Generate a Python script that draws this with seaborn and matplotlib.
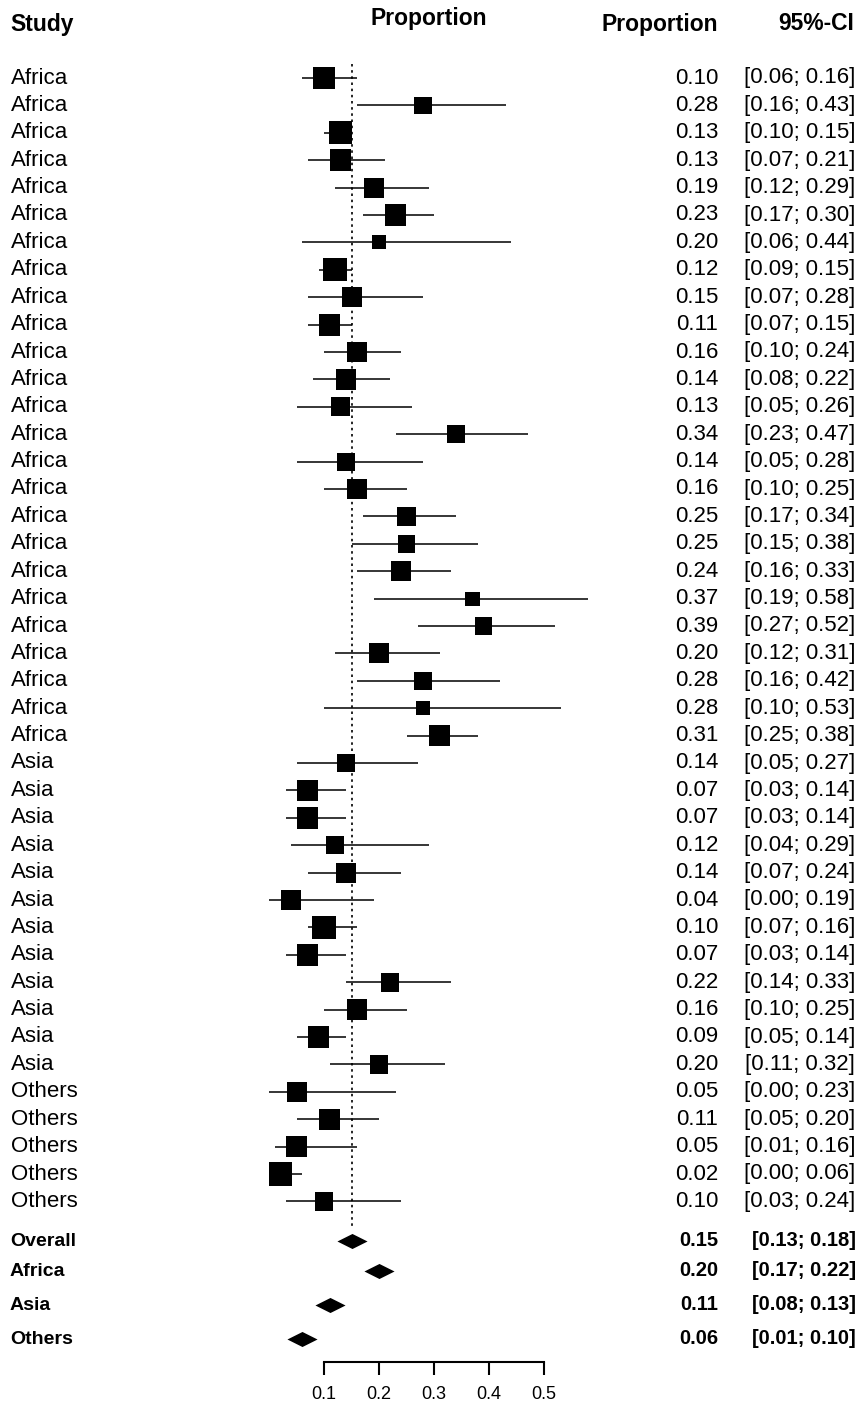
import numpy as np
import pandas as pd
import matplotlib
matplotlib.use('Agg')
import matplotlib.pyplot as plt
import matplotlib.transforms as mtransforms
from matplotlib.path import Path
import seaborn as sns

# ---------------- data ----------------
study = ['Africa'] * 25 + ['Asia'] * 12 + ['Others'] * 5
prop = [0.10, 0.28, 0.13, 0.13, 0.19, 0.23, 0.20, 0.12, 0.15, 0.11,
        0.16, 0.14, 0.13, 0.34, 0.14, 0.16, 0.25, 0.25, 0.24, 0.37,
        0.39, 0.20, 0.28, 0.28, 0.31,
        0.14, 0.07, 0.07, 0.12, 0.14, 0.04, 0.10, 0.07, 0.22, 0.16, 0.09, 0.20,
        0.05, 0.11, 0.05, 0.02, 0.10]
lower = [0.06, 0.16, 0.10, 0.07, 0.12, 0.17, 0.06, 0.09, 0.07, 0.07,
         0.10, 0.08, 0.05, 0.23, 0.05, 0.10, 0.17, 0.15, 0.16, 0.19,
         0.27, 0.12, 0.16, 0.10, 0.25,
         0.05, 0.03, 0.03, 0.04, 0.07, 0.00, 0.07, 0.03, 0.14, 0.10, 0.05, 0.11,
         0.00, 0.05, 0.01, 0.00, 0.03]
upper = [0.16, 0.43, 0.15, 0.21, 0.29, 0.30, 0.44, 0.15, 0.28, 0.15,
         0.24, 0.22, 0.26, 0.47, 0.28, 0.25, 0.34, 0.38, 0.33, 0.58,
         0.52, 0.31, 0.42, 0.53, 0.38,
         0.27, 0.14, 0.14, 0.29, 0.24, 0.19, 0.16, 0.14, 0.33, 0.25, 0.14, 0.32,
         0.23, 0.20, 0.16, 0.06, 0.24]
# relative study weight, estimated from the square sizes
weight = [4.8, 2.9, 5.3, 4.8, 4.0, 4.8, 2.0, 5.3, 4.0, 4.8,
          4.4, 4.4, 3.6, 3.2, 3.2, 4.0, 3.6, 3.2, 4.0, 2.0,
          2.9, 4.0, 3.2, 2.0, 4.4,
          3.6, 4.4, 4.8, 3.2, 4.0, 4.4, 5.3, 4.8, 3.6, 4.4, 4.8, 3.6,
          4.0, 4.4, 4.4, 5.3, 3.6]

sum_labels = ['Overall', 'Africa', 'Asia', 'Others']
sum_prop = [0.15, 0.20, 0.11, 0.06]
sum_lower = [0.13, 0.17, 0.08, 0.01]
sum_upper = [0.18, 0.22, 0.13, 0.10]

# ---------------- layout ----------------
W, H = 857, 1404
row_y = 78 + np.arange(len(prop)) * 27.4
sum_y = np.array([1241, 1271, 1305, 1339])

df = pd.DataFrame({'study': study, 'prop': prop, 'lower': lower,
                   'upper': upper, 'weight': weight, 'y': row_y})
df_sum = pd.DataFrame({'label': sum_labels, 'prop': sum_prop, 'y': sum_y})

sns.set_theme(style='white')
plt.rcParams['font.family'] = ['Liberation Sans', 'DejaVu Sans']
plt.rcParams['text.color'] = 'black'
plt.rcParams['xtick.color'] = 'black'

fig = plt.figure(figsize=(W / 100, H / 100), dpi=100)
# x scale: 0 -> 269 px, 1 -> 819 px
ax = fig.add_axes([269 / W, 0, 550 / W, 1])
ax.set_xlim(0, 1)
ax.set_ylim(H, 0)
ax.patch.set_alpha(0)

# confidence intervals
ax.hlines(df['y'], df['lower'], df['upper'], color='black', lw=1.1, zorder=2)

# study squares, area proportional to weight
k = 51.84
wmin, wmax = min(weight), max(weight)
sns.scatterplot(data=df, x='prop', y='y', size='weight',
                sizes=(k * wmin, k * wmax), size_norm=(wmin, wmax),
                marker='s', color='black', linewidth=0, legend=False,
                ax=ax, zorder=3)

# reference line at overall estimate
ax.vlines(sum_prop[0], 64, 1228, color='black', lw=1.2,
          linestyles=(0, (1.5, 2.2)), zorder=1)

# pooled estimates as diamonds
diamond = Path([(-1, 0), (0, 0.5), (1, 0), (0, -0.5), (-1, 0)],
               [Path.MOVETO, Path.LINETO, Path.LINETO, Path.LINETO, Path.CLOSEPOLY])
sns.scatterplot(data=df_sum, x='prop', y='y', marker=diamond, s=470,
                color='black', linewidth=0, legend=False, ax=ax, zorder=3)

# bottom axis
for s in ['top', 'left', 'right']:
    ax.spines[s].set_visible(False)
ax.spines['bottom'].set_position(('data', 1362))
ax.spines['bottom'].set_bounds(0.1, 0.5)
ax.spines['bottom'].set_color('black')
ax.spines['bottom'].set_linewidth(1.5)
ax.set_xticks([0.1, 0.2, 0.3, 0.4, 0.5])
ax.set_xticklabels(['0.1', '0.2', '0.3', '0.4', '0.5'], fontsize=13)
ax.tick_params(axis='x', direction='out', length=9, width=1.5, pad=8, bottom=True)
ax.set_yticks([])
ax.set_xlabel('')
ax.set_ylabel('')

# text columns: x in figure pixels, y in data (pixel rows)
tr = mtransforms.blended_transform_factory(fig.transFigure, ax.transData)
fx = lambda px: px / W

head_kw = dict(transform=tr, fontsize=16.5, fontweight='bold', va='center')
ax.text(fx(10), 24, 'Study', ha='left', **head_kw)
ax.text(fx(429), 18, 'Proportion', ha='center', **head_kw)
ax.text(fx(718), 24, 'Proportion', ha='right', **head_kw)
ax.text(fx(854), 24, '95%-CI', ha='right', **head_kw)

for s, p, lo, hi, y in zip(study, prop, lower, upper, row_y):
    ax.text(fx(11), y, s, transform=tr, fontsize=16, ha='left', va='center')
    ax.text(fx(718), y, f'{p:.2f}', transform=tr, fontsize=16, ha='right', va='center')
    ax.text(fx(855), y, f'[{lo:.2f}; {hi:.2f}]', transform=tr, fontsize=16,
            ha='right', va='center')

for s, p, lo, hi, y in zip(sum_labels, sum_prop, sum_lower, sum_upper, sum_y):
    ax.text(fx(10), y, s, transform=tr, fontsize=14, fontweight='bold', ha='left', va='center')
    ax.text(fx(718), y, f'{p:.2f}', transform=tr, fontsize=14.5, fontweight='bold',
            ha='right', va='center')
    ax.text(fx(856), y, f'[{lo:.2f}; {hi:.2f}]', transform=tr, fontsize=14.5,
            fontweight='bold', ha='right', va='center')

fig.savefig('out.png', dpi=100, facecolor='white')
